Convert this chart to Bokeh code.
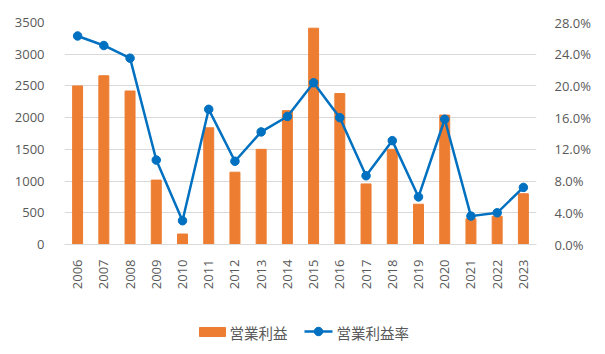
from bokeh.plotting import figure
from bokeh.models import (Range1d, LinearAxis, FixedTicker, NumeralTickFormatter,
                          FactorRange)
from bokeh.core.properties import value
from bokeh.layouts import column
from bokeh.embed import file_html
from bokeh.resources import INLINE
import math

years = ["2006", "2007", "2008", "2009", "2010", "2011", "2012", "2013", "2014",
         "2015", "2016", "2017", "2018", "2019", "2020", "2021", "2022", "2023"]
profit = [2500, 2660, 2420, 1015, 165, 1840, 1140, 1500, 2110,
          3410, 2380, 955, 1500, 635, 2040, 405, 445, 800]
margin = [0.263, 0.251, 0.235, 0.1065, 0.030, 0.1705, 0.105, 0.142, 0.1615,
          0.204, 0.160, 0.0867, 0.131, 0.060, 0.158, 0.0358, 0.040, 0.072]
left_ticks = [0, 500, 1000, 1500, 2000, 2500, 3000, 3500]
right_ticks = [0.0, 0.04, 0.08, 0.12, 0.16, 0.20, 0.24, 0.28]
series_names = ["営業利益", "営業利益率"]

BAR = "#ED7D31"
LINE = "#0070C0"
TXT = "#595959"
NUMFONT = "Open Sans"
JPFONT = "Noto Sans CJK JP"

FL, FR = 64, 536  # frame left / right in pixels

p = figure(width=605, height=300, x_range=FactorRange(*years),
           y_range=Range1d(0, 3500), output_backend="svg", toolbar_location=None,
           min_border_left=FL, min_border_right=605 - FR, min_border_top=22,
           min_border_bottom=56)
p.outline_line_color = None
p.background_fill_color = "white"
p.border_fill_color = "white"
p.x_range.range_padding = 0
p.extra_y_ranges = {"pct": Range1d(0, 0.28)}

p.vbar(x=years, top=profit, width=0.38, fill_color=BAR, line_color=BAR)
p.line(x=years, y=margin, y_range_name="pct", line_color=LINE, line_width=2.5)
p.scatter(x=years, y=margin, y_range_name="pct", size=8.5, fill_color=LINE,
          line_color=LINE)

p.yaxis.ticker = FixedTicker(ticks=left_ticks)
p.ygrid.ticker = FixedTicker(ticks=left_ticks)
p.ygrid.grid_line_color = "#d9d9d9"
p.xgrid.grid_line_color = None

ax_l = p.yaxis[0]
ax_l.axis_line_color = None
ax_l.major_tick_line_color = None
ax_l.minor_tick_line_color = None
ax_l.major_label_text_font = NUMFONT
ax_l.major_label_text_font_size = "13px"
ax_l.major_label_text_color = TXT
ax_l.major_label_standoff = 14

ax_r = LinearAxis(y_range_name="pct", ticker=FixedTicker(ticks=right_ticks),
                  formatter=NumeralTickFormatter(format="0.0%"))
ax_r.axis_line_color = None
ax_r.major_tick_line_color = None
ax_r.minor_tick_line_color = None
ax_r.major_label_text_font = NUMFONT
ax_r.major_label_text_font_size = "13px"
ax_r.major_label_text_color = TXT
ax_r.major_label_standoff = 12
p.add_layout(ax_r, "right")

ax_b = p.xaxis[0]
ax_b.axis_line_color = "#d9d9d9"
ax_b.major_tick_line_color = None
ax_b.minor_tick_line_color = None
ax_b.major_label_orientation = math.pi / 2
ax_b.major_label_text_font = NUMFONT
ax_b.major_label_text_font_size = "13px"
ax_b.major_label_text_color = TXT
ax_b.major_label_standoff = 9

# legend strip (pixel coordinates, y downward); its frame is aligned with p's
q = figure(width=605, height=54, x_range=Range1d(FL, FR), y_range=Range1d(54, 0),
           output_backend="svg", toolbar_location=None,
           min_border_left=FL, min_border_right=605 - FR, min_border_top=0,
           min_border_bottom=0)
q.axis.visible = False
q.grid.visible = False
q.outline_line_color = None
q.border_fill_color = "white"
q.background_fill_color = "white"

q.quad(left=[199], right=[225], top=[27], bottom=[36], fill_color=BAR, line_color=BAR)
q.text(x=[229], y=[31.5], text=[series_names[0]], text_font=value(JPFONT),
       text_font_size="14.5px", text_color=TXT, text_baseline="middle",
       text_align="left")
q.segment(x0=[304], y0=[31], x1=[332], y1=[31], line_color=LINE, line_width=2.5)
q.scatter(x=[318], y=[31], size=8.5, fill_color=LINE, line_color=LINE)
q.text(x=[336], y=[31.5], text=[series_names[1]], text_font=value(JPFONT),
       text_font_size="14.5px", text_color=TXT, text_baseline="middle",
       text_align="left")

layout = column(p, q, spacing=0)
open("out.html", "w").write(file_html(layout, INLINE))
